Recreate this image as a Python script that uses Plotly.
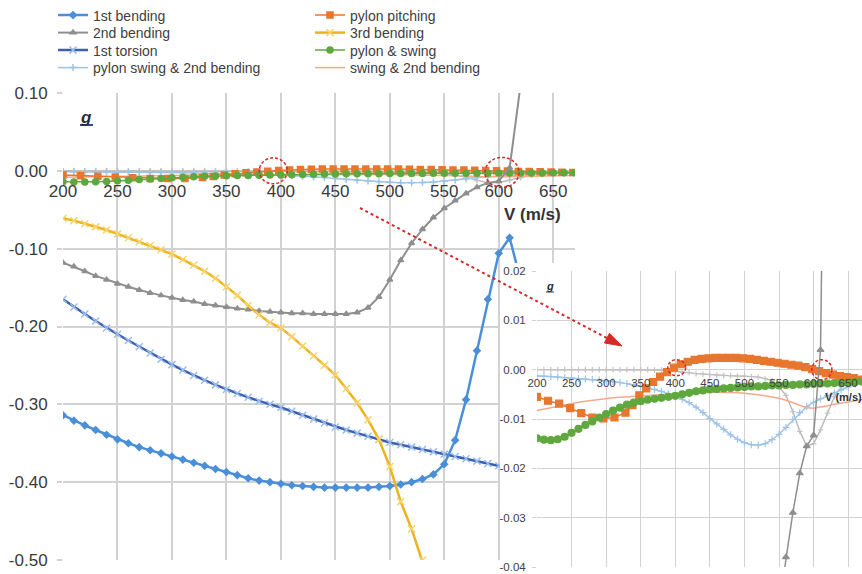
import plotly.graph_objects as go

W, H = 862, 574
FONT = "Liberation Sans, Arial, sans-serif"
TXT = "#404040"
GRID = "#d2d2d2"
RED = "#d42a2a"

# flight speed V (m/s), 10 m/s steps
speed = list(range(200, 680, 10))

# damping g of each mode
first_bending = [
    -0.314, -0.321, -0.327, -0.333, -0.339, -0.345, -0.350, -0.355, -0.359, -0.363,
    -0.367, -0.371, -0.375, -0.379, -0.383, -0.387, -0.391, -0.395, -0.398, -0.400,
    -0.402, -0.404, -0.405, -0.406, -0.407, -0.407, -0.407, -0.407, -0.407, -0.406,
    -0.405, -0.403, -0.400, -0.396, -0.390, -0.377, -0.346, -0.294, -0.231, -0.165,
    -0.106, -0.086, -0.140,
]
second_bending = [
    -0.118, -0.123, -0.129, -0.135, -0.140, -0.145, -0.149, -0.153, -0.157, -0.160,
    -0.163, -0.166, -0.168, -0.171, -0.173, -0.175, -0.177, -0.178, -0.180, -0.181,
    -0.182, -0.183, -0.183, -0.184, -0.184, -0.184, -0.184, -0.182, -0.176, -0.162,
    -0.140, -0.115, -0.093, -0.075, -0.060, -0.048, -0.038, -0.029, -0.021, -0.0155,
    -0.0133, 0.004, 0.110,
]
first_torsion = [
    -0.165, -0.175, -0.184, -0.193, -0.202, -0.210, -0.218, -0.226, -0.234, -0.242,
    -0.249, -0.256, -0.263, -0.269, -0.275, -0.281, -0.286, -0.291, -0.296, -0.300,
    -0.304, -0.309, -0.314, -0.319, -0.324, -0.329, -0.333, -0.337, -0.341, -0.345,
    -0.349, -0.352, -0.355, -0.358, -0.361, -0.364, -0.367, -0.370, -0.373, -0.376,
    -0.379, -0.382,
]
third_bending = [
    -0.061, -0.064, -0.068, -0.072, -0.076, -0.081, -0.086, -0.091, -0.096, -0.101,
    -0.107, -0.114, -0.121, -0.129, -0.138, -0.149, -0.160, -0.173, -0.185, -0.195,
    -0.202, -0.213, -0.225, -0.238, -0.250, -0.262, -0.280, -0.298, -0.320, -0.345,
    -0.380, -0.425, -0.460, -0.500, -0.545,
]
pylon_swing_2nd = [
    -0.0013, -0.0013, -0.0014, -0.0015, -0.0016, -0.0017, -0.0018, -0.0019, -0.0020, -0.0021,
    -0.0022, -0.0024, -0.0026, -0.0028, -0.0031, -0.0034, -0.0037, -0.0040, -0.0044, -0.0049,
    -0.0054, -0.0060, -0.0067, -0.0076, -0.0087, -0.0099, -0.0110, -0.0121, -0.0132, -0.0141,
    -0.0148, -0.0152, -0.0153, -0.0150, -0.0142, -0.0131, -0.0117, -0.0101, -0.0087, -0.0075,
    -0.0066, -0.0059, -0.0053, -0.0047, -0.0041, -0.0035, -0.0029, -0.0025,
]
pitch_speed = [
    200, 216, 232, 248, 264, 280, 296, 312, 328, 338, 348, 358, 368, 378, 388, 398,
    408, 418, 428, 438, 448, 458, 468, 478, 488, 498, 508, 518, 528, 538, 548, 558,
    568, 578, 588, 598, 608, 618, 628, 638, 648, 658, 668,
]
pylon_pitching = [
    -0.0055, -0.0063, -0.0069, -0.0078, -0.0088, -0.0097, -0.0099, -0.0097, -0.0087, -0.0072,
    -0.0052, -0.0038, -0.0025, -0.0014, -0.0005, 0.0004, 0.0011, 0.0016, 0.0020, 0.0022,
    0.0023, 0.0024, 0.0024, 0.0024, 0.0024, 0.0023, 0.0022, 0.0020, 0.0018, 0.0016,
    0.0014, 0.0012, 0.0010, 0.0008, 0.0005, 0.0001, -0.0003, -0.0007, -0.0010, -0.0013,
    -0.0015, -0.0017, -0.0020,
]
pylon_and_swing = [
    -0.0139, -0.0142, -0.0143, -0.0141, -0.0136, -0.0128, -0.0120, -0.0112, -0.0105, -0.0097,
    -0.0090, -0.0083, -0.0077, -0.0071, -0.0067, -0.0064, -0.0061, -0.0059, -0.0057, -0.0055,
    -0.0053, -0.0050, -0.0047, -0.0044, -0.0042, -0.0040, -0.0039, -0.0038, -0.0037, -0.0036,
    -0.0035, -0.0034, -0.0034, -0.0033, -0.0032, -0.0032, -0.0031, -0.0031, -0.0030, -0.0030,
    -0.0029, -0.0028, -0.0028, -0.0027, -0.0027, -0.0026, -0.0025, -0.0024,
]
swing_2nd = [
    -0.0083, -0.0080, -0.0077, -0.0074, -0.0071, -0.0068, -0.0066, -0.0064, -0.0062, -0.0060,
    -0.0059, -0.0057, -0.0056, -0.0055, -0.0054, -0.0053, -0.0052, -0.0052, -0.0051, -0.0050,
    -0.0050, -0.0049, -0.0048, -0.0047, -0.0047, -0.0046, -0.0046, -0.0046, -0.0046, -0.0047,
    -0.0048, -0.0049, -0.0051, -0.0053, -0.0055, -0.0058, -0.0062, -0.0067, -0.0073, -0.0077,
    -0.0078, -0.0076, -0.0073, -0.0070, -0.0068, -0.0066, -0.0063, -0.0061,
]
second_bending_branch = [
    0.0000, 0.0000, 0.0000, 0.0000, 0.0000, 0.0000, 0.0000, 0.0000, 0.0000, 0.0000,
    0.0000, 0.0000, 0.0000, 0.0000, 0.0000, 0.0000, 0.0000, -0.0001, -0.0001, -0.0002,
    -0.0003, -0.0005, -0.0006, -0.0008, -0.0009, -0.0010, -0.0011, -0.0012, -0.0012, -0.0013,
    -0.0013, -0.0014, -0.0015, -0.0018, -0.0022, -0.0035, -0.0052, -0.0085, -0.0125, -0.0155,
    -0.0150, -0.0122, -0.0088, -0.0055, -0.0035, -0.0028, -0.0025, -0.0024,
]

x_ticks = [200, 250, 300, 350, 400, 450, 500, 550, 600, 650]
main_y_ticks = [0.10, 0.00, -0.10, -0.20, -0.30, -0.40, -0.50]
main_y_labels = ["0.10", "0.00", "-0.10", "-0.20", "-0.30", "-0.40", "-0.50"]
inset_y_ticks = [0.02, 0.01, 0.00, -0.01, -0.02, -0.03, -0.04]
inset_y_labels = ["0.02", "0.01", "0.00", "-0.01", "-0.02", "-0.03", "-0.04"]


def px(x):
    return x / W


def py(y):
    return 1 - y / H


MAIN_X, MAIN_Y = [px(63), px(575)], [py(560), py(93)]
MAIN_XR, MAIN_YR = [200, 670], [-0.5, 0.1]
COVER_X, COVER_Y = [px(500), 1.0], [0.0, py(263)]
INSET_X, INSET_Y = [px(537), 1.0], [py(567), py(271)]
INSET_YR = [-0.04, 0.02]


def zero_at(domain, rng):
    return domain[0] + (0 - rng[0]) / (rng[1] - rng[0]) * (domain[1] - domain[0])


# name, x, y, line colour, line width, marker symbol, marker size, marker colour, legend, in inset
series = [
    ("2nd bending branch", speed, second_bending_branch, "#b4b4b4", 1.3, "cross-thin-open", 4, "#c4c4c4", None, True),
    ("pylon swing & 2nd bending", speed, pylon_swing_2nd, "#9dc3e6", 1.5, "cross-thin-open", 5, "#9dc3e6", "legend4", True),
    ("swing & 2nd bending", speed, swing_2nd, "#f4a98c", 1.5, None, 0, "#f4a98c", "legend8", True),
    ("pylon pitching", pitch_speed, pylon_pitching, "#e8762d", 1.5, "square", 6, "#e8762d", "legend5", True),
    ("pylon & swing", speed, pylon_and_swing, "#5ea83e", 1.5, "circle", 6, "#5ea83e", "legend7", True),
    ("1st torsion", speed, first_torsion, "#3d5fb0", 2.5, "x-thin-open", 7, "#98bdec", "legend3", False),
    ("1st bending", speed, first_bending, "#4a8fd8", 2.5, "diamond", 5, "#4a8fd8", "legend", False),
    ("2nd bending", speed, second_bending, "#8f8f8f", 2.0, "triangle-up", 5, "#8f8f8f", "legend2", True),
    ("3rd bending", speed, third_bending, "#edb31e", 2.5, "x-thin-open", 7, "#f6d46e", "legend6", False),
]

fig = go.Figure()

for name, xs, ys, col, lw, sym, ms, mcol, leg, inset in series:
    n = len(ys)
    mode = "lines+markers" if sym else "lines"
    marker = dict(symbol=sym, size=ms, color=mcol, line=dict(color=mcol, width=1.5)) if sym else None
    fig.add_trace(go.Scatter(
        x=xs[:n], y=ys, name=name, mode=mode,
        line=dict(color=col, width=lw), marker=marker,
        xaxis="x", yaxis="y",
        showlegend=leg is not None, legend=leg or "legend",
        hoverinfo="skip",
    ))

# white panel the enlarged view sits on
fig.add_trace(go.Scatter(x=[None], y=[None], xaxis="x2", yaxis="y2",
                         showlegend=False, hoverinfo="skip"))

for name, xs, ys, col, lw, sym, ms, mcol, leg, inset in series:
    if not inset:
        continue
    n = len(ys)
    mode = "lines+markers" if sym else "lines"
    isize = ms + 1 if sym in ("square", "circle", "triangle-up") else ms
    marker = dict(symbol=sym, size=isize, color=mcol, line=dict(color=mcol, width=1.2)) if sym else None
    fig.add_trace(go.Scatter(
        x=xs[:n], y=ys, name=name, mode=mode,
        line=dict(color=col, width=min(lw, 1.5)), marker=marker,
        xaxis="x3", yaxis="y3", showlegend=False, hoverinfo="skip",
    ))

tick_font_main = dict(family=FONT, size=17, color="#3a3a3a")
tick_font_inset = dict(family=FONT, size=11.5, color=TXT)

fig.update_layout(
    width=W, height=H,
    margin=dict(l=0, r=0, t=0, b=0, autoexpand=False),
    paper_bgcolor="white", plot_bgcolor="white",
    font=dict(family=FONT, color=TXT),
    xaxis=dict(domain=MAIN_X, range=MAIN_XR, anchor="free", automargin=False,
               position=zero_at(MAIN_Y, MAIN_YR),
               tickvals=x_ticks, tickfont=tick_font_main, ticks="",
               ticklabelstandoff=8, showgrid=True, gridcolor=GRID, gridwidth=1.6,
               zeroline=False, showline=False),
    yaxis=dict(domain=MAIN_Y, range=MAIN_YR, anchor="x", automargin=False,
               tickvals=main_y_ticks, ticktext=main_y_labels, tickfont=tick_font_main,
               ticks="outside", ticklen=5, tickcolor=GRID, tickwidth=1.6,
               ticklabelstandoff=6, showgrid=True, gridcolor=GRID, gridwidth=1.6,
               zeroline=False, showline=False),
    xaxis2=dict(domain=COVER_X, range=[0, 1], anchor="y2", visible=False, automargin=False),
    yaxis2=dict(domain=COVER_Y, range=[0, 1], anchor="x2", visible=False, automargin=False),
    xaxis3=dict(domain=INSET_X, range=MAIN_XR, anchor="free", automargin=False,
                position=zero_at(INSET_Y, INSET_YR),
                tickvals=x_ticks, tickfont=tick_font_inset, ticks="",
                ticklabelstandoff=5, showgrid=True, gridcolor=GRID, gridwidth=1,
                zeroline=False, showline=False),
    yaxis3=dict(domain=INSET_Y, range=INSET_YR, anchor="x3", automargin=False,
                tickvals=inset_y_ticks, ticktext=inset_y_labels, tickfont=tick_font_inset,
                ticks="outside", ticklen=4, tickcolor=GRID, tickwidth=1,
                ticklabelstandoff=4, showgrid=True, gridcolor=GRID, gridwidth=1,
                zeroline=False, showline=False),
)

# legend laid out as two columns of four rows
legend_slots = {
    "legend": (53, 15.5), "legend2": (53, 33), "legend3": (53, 50.5), "legend4": (53, 68),
    "legend5": (310, 15.5), "legend6": (310, 33), "legend7": (310, 50.5), "legend8": (310, 68),
}
for key, (lx, ly) in legend_slots.items():
    fig.update_layout({key: dict(
        x=px(lx), y=py(ly), xanchor="left", yanchor="middle",
        bgcolor="rgba(0,0,0,0)", borderwidth=0, itemwidth=30,
        font=dict(family=FONT, size=14, color=TXT),
    )})

# axis captions
notes = [
    (86, 118, "<b><i>g</i></b>", 17, "#2a2a3a"),
    (532, 215, "<b>V (m/s)</b>", 17, "#333333"),
    (550, 286, "<b><i>g</i></b>", 11, "#2a2a3a"),
    (843, 397, "<b>V (m/s)</b>", 11, "#333333"),
]
for x, y, text, size, col in notes:
    fig.add_annotation(x=px(x), y=py(y), xref="paper", yref="paper", text=text,
                       showarrow=False, xanchor="center", yanchor="middle",
                       font=dict(family=FONT, size=size, color=col))

# underline beneath each "g"
for ux0, ux1, uy, uw, ucol in [(80, 93, 125, 2, "#2f4a8c"), (546, 554, 292, 1.2, "#555555")]:
    fig.add_shape(type="line", xref="paper", yref="paper",
                  x0=px(ux0), x1=px(ux1), y0=py(uy), y1=py(uy),
                  line=dict(color=ucol, width=uw), layer="above")

# dashed rings around the zero crossings
rings = [
    ("x", "y", 393, 0.0, 14, 13),
    ("x", "y", 603, -0.002, 17, 15),
    ("x3", "y3", 402, 0.0004, 9, 8),
    ("x3", "y3", 612, 0.0, 10, 10),
]
for xr, yr, xa, ya, rx, ry in rings:
    fig.add_shape(type="circle", xref=xr, yref=yr,
                  xsizemode="pixel", ysizemode="pixel", xanchor=xa, yanchor=ya,
                  x0=-rx, x1=rx, y0=-ry, y1=ry,
                  line=dict(color=RED, width=1.5, dash="3px,2px"), layer="above")

# dashed pointer from the main view to the enlarged view
x0, y0, tx, ty = 360, 208, 622, 346
dx, dy = tx - x0, ty - y0
L = (dx * dx + dy * dy) ** 0.5
ux, uy = dx / L, dy / L
head, half = 17, 5.5
bx, by = tx - head * ux, ty - head * uy
fig.add_shape(type="line", xref="paper", yref="paper",
              x0=px(x0), y0=py(y0), x1=px(bx + 2 * ux), y1=py(by + 2 * uy),
              line=dict(color=RED, width=2, dash="3px,3px"), layer="above")
p1 = (bx - half * uy, by + half * ux)
p2 = (bx + half * uy, by - half * ux)
fig.add_shape(type="path", xref="paper", yref="paper",
              path=f"M{px(tx)},{py(ty)} L{px(p1[0])},{py(p1[1])} L{px(p2[0])},{py(p2[1])} Z",
              fillcolor=RED, line=dict(color=RED, width=1), layer="above")

fig.write_html("out.html")
